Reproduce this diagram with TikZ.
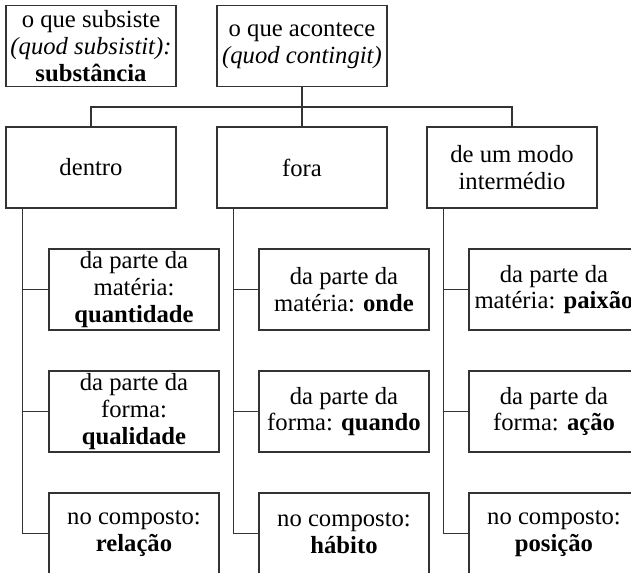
\documentclass[tikz,border=0pt]{standalone}
\usepackage{fontspec}
\setmainfont{Liberation Serif}
\tikzset{
  caixa/.style={draw=black!80, line width=0.8pt, minimum width=127.5pt,
    minimum height=60.75pt, align=center, inner sep=0.5pt,
    font=\fontsize{18.5}{20}\selectfont},
  liga/.style={draw=black!80, line width=0.8pt}
}
\begin{document}
\begin{tikzpicture}[x=0.75pt,y=-0.75pt]
    \useasboundingbox (0,0) rectangle (631,573);
    \clip (0,0) rectangle (631,573);
    % top row
    \node[caixa] (subsiste) at (91,46) {o que subsiste\\\textit{(quod subsistit):}\\\textbf{substância}};
    \node[caixa] (acontece) at (302,46) {o que acontece\\\textit{(quod contingit)}};
    % second row
    \node[caixa] (dentro) at (91,167.5) {dentro};
    \node[caixa] (fora) at (302,167.5) {fora};
    \node[caixa] (intermedio) at (512,167.5) {de um modo\\intermédio};
    % third level
    \node[caixa] (d1) at (134,289.5) {da parte da\\matéria:\\\textbf{quantidade}};
    \node[caixa] (d2) at (134,411.5) {da parte da\\forma:\\\textbf{qualidade}};
    \node[caixa] (d3) at (134,533.5) {no composto:\\\textbf{relação}};
    \node[caixa] (f1) at (344,289.5) {da parte da\\matéria: \textbf{onde}};
    \node[caixa] (f2) at (344,411.5) {da parte da\\forma: \textbf{quando}};
    \node[caixa] (f3) at (344,533.5) {no composto:\\\textbf{hábito}};
    \node[caixa] (i1) at (554,289.5) {da parte da\\matéria: \textbf{paixão}};
    \node[caixa] (i2) at (554,411.5) {da parte da\\forma: \textbf{ação}};
    \node[caixa] (i3) at (554,533.5) {no composto:\\\textbf{posição}};
    % connectors
    \coordinate (junta) at (302,107);
    \draw[liga] (acontece.south) -- (fora.north);
    \draw[liga] (dentro.north) |- (junta) -| (intermedio.north);
    \foreach \pai/\col in {dentro/d, fora/f, intermedio/i} {
        \draw[liga] (\pai.south west) ++(17,0) coordinate (\col top) |- (\col3.west);
        \draw[liga] (\col1.west) -- (\col1.west -| \col top);
        \draw[liga] (\col2.west) -- (\col2.west -| \col top);
    }
\end{tikzpicture}
\end{document}
